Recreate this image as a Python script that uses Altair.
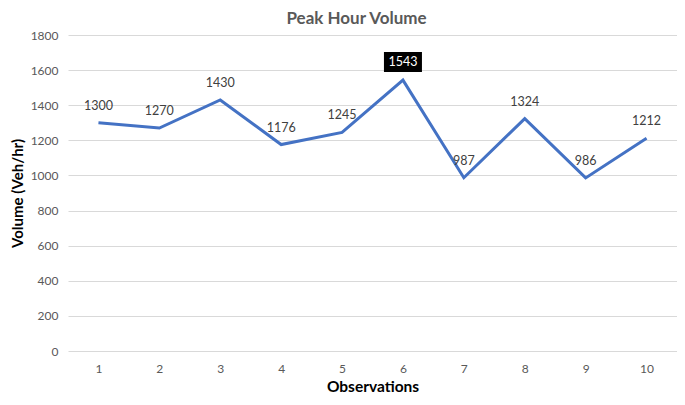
import altair as alt
import pandas as pd

observations = [1, 2, 3, 4, 5, 6, 7, 8, 9, 10]
volumes = [1300, 1270, 1430, 1176, 1245, 1543, 987, 1324, 986, 1212]
highlight = [False, False, False, False, False, True, False, False, False, False]
y_ticks = [0, 200, 400, 600, 800, 1000, 1200, 1400, 1600, 1800]

df = pd.DataFrame({"obs": observations, "vol": volumes, "hl": highlight})

FONT = "Lato"

x = alt.X("obs:O", title="Observations",
          scale=alt.Scale(type="point", padding=0.5),
          axis=alt.Axis(labelAngle=0, labelColor="#595959", labelFontSize=12,
                        labelFont=FONT, ticks=False, domain=False, labelPadding=12,
                        titleFont=FONT, titleFontSize=15.5, titleFontWeight="bold",
                        titleColor="#000000", titlePadding=5))
y = alt.Y("vol:Q", title="Volume (Veh/hr)",
          scale=alt.Scale(domain=[0, 1800], nice=False),
          axis=alt.Axis(values=y_ticks, format="d", labelOverlap=False,
                        labelColor="#595959", labelFontSize=12,
                        labelFont=FONT, ticks=False, domain=False, labelPadding=10,
                        gridColor="#d9d9d9", gridWidth=1,
                        titleFont=FONT, titleFontSize=15, titleFontWeight="bold",
                        titleColor="#000000", titlePadding=5))

base = alt.Chart(df).encode(x=x, y=y)

line = base.mark_line(color="#4472C4", strokeWidth=3)

labels = base.transform_filter("!datum.hl").mark_text(
    dy=-17, fontSize=12.5, font=FONT, color="#404040"
).encode(text="vol:Q")

box = base.transform_filter("datum.hl").mark_rect(
    width=38, height=20, color="black", yOffset=-18
)

box_text = base.transform_filter("datum.hl").mark_text(
    dy=-18, fontSize=12.5, font=FONT, color="white"
).encode(text="vol:Q")

chart = (line + labels + box + box_text).properties(
    width=609, height=316,
    title=alt.TitleParams("Peak Hour Volume", font=FONT, fontSize=17,
                          fontWeight="bold", color="#595959", dx=-16, offset=1),
    autosize=alt.AutoSizeParams(type="none"),
    padding={"left": 60, "top": 27, "right": 0, "bottom": 46},
).configure_view(stroke=None)

chart.save("out.html", embed_options={"renderer": "svg", "actions": False})
